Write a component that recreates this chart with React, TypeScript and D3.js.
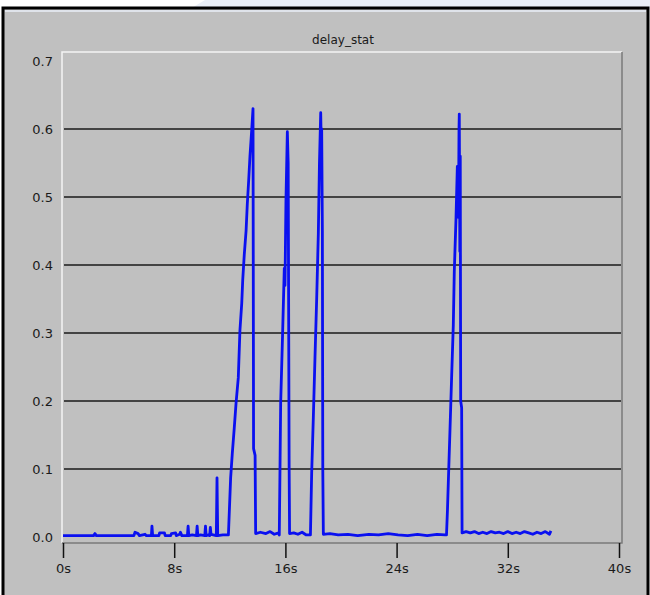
import { useRef, useEffect } from "react";
import * as d3 from "d3";

// delay_stat samples: time in seconds, delay in seconds
const quietTime = [0, 2.2, 2.3, 2.4, 5.1, 5.18, 5.4, 5.5, 5.9, 6.0, 6.36, 6.4, 6.45, 6.9, 6.95, 7.3, 7.35, 7.75, 7.8, 8.1, 8.15, 8.4, 8.45, 8.55, 8.95, 9.0, 9.05, 9.3, 9.6, 9.65, 9.7, 9.9, 10.2, 10.25, 10.3, 10.45, 10.55, 10.6, 10.65, 11.03, 11.08, 11.13, 11.5, 11.9];
const quietDelay = [0.002, 0.002, 0.005, 0.002, 0.002, 0.007, 0.005, 0.002, 0.004, 0.002, 0.002, 0.016, 0.002, 0.002, 0.006, 0.006, 0.002, 0.002, 0.005, 0.006, 0.002, 0.004, 0.007, 0.002, 0.002, 0.016, 0.002, 0.003, 0.002, 0.016, 0.002, 0.003, 0.002, 0.016, 0.002, 0.003, 0.002, 0.014, 0.004, 0.002, 0.087, 0.002, 0.003, 0.003];

const burst1Time = [12.06, 12.18, 12.32, 12.45, 12.61, 12.73, 12.86, 12.93, 13.04, 13.17, 13.26, 13.36, 13.45, 13.58, 13.67, 13.71, 13.82, 13.86];
const burst1Delay = [0.087, 0.123, 0.16, 0.197, 0.234, 0.304, 0.344, 0.378, 0.415, 0.45, 0.49, 0.525, 0.56, 0.6, 0.63, 0.13, 0.12, 0.005];

const gap1Time = [14.2, 14.6, 14.9, 15.2, 15.5, 15.56];
const gap1Delay = [0.007, 0.005, 0.008, 0.004, 0.006, 0.003];

const burst2Time = [15.61, 15.66, 15.8, 15.92, 15.97, 16.04, 16.14, 16.2, 16.27, 16.3];
const burst2Delay = [0.098, 0.197, 0.3, 0.395, 0.37, 0.495, 0.596, 0.55, 0.1, 0.005];

const gap2Time = [16.6, 16.9, 17.2, 17.5, 17.8];
const gap2Delay = [0.006, 0.004, 0.007, 0.003, 0.003];

const burst3Time = [17.89, 18.01, 18.13, 18.25, 18.37, 18.45, 18.54, 18.58, 18.61, 18.66, 18.69, 18.73];
const burst3Delay = [0.094, 0.176, 0.265, 0.35, 0.447, 0.55, 0.624, 0.574, 0.6, 0.45, 0.1, 0.004];

const gap3Time = [19.2, 19.8, 20.5, 21.2, 22, 22.7, 23.4, 24.1, 24.8, 25.5, 26.2, 26.9, 27.5, 27.59];
const gap3Delay = [0.005, 0.003, 0.004, 0.002, 0.004, 0.003, 0.005, 0.003, 0.002, 0.004, 0.002, 0.004, 0.003, 0.003];

const burst4Time = [27.66, 27.72, 27.84, 27.96, 28.08, 28.15, 28.27, 28.37, 28.45, 28.49, 28.51, 28.55, 28.58, 28.61, 28.68, 28.71];
const burst4Delay = [0.04, 0.08, 0.157, 0.236, 0.312, 0.39, 0.466, 0.545, 0.47, 0.6, 0.622, 0.42, 0.56, 0.2, 0.19, 0.006];

const tailTime = [29.0, 29.3, 29.6, 29.9, 30.2, 30.5, 30.8, 31.1, 31.4, 31.7, 32.0, 32.3, 32.6, 32.9, 33.2, 33.5, 33.8, 34.1, 34.4, 34.7, 35.0, 35.1];
const tailDelay = [0.008, 0.006, 0.008, 0.005, 0.007, 0.005, 0.008, 0.006, 0.007, 0.005, 0.008, 0.005, 0.007, 0.005, 0.008, 0.006, 0.004, 0.007, 0.005, 0.008, 0.004, 0.009];

const xTicks = [0, 8, 16, 24, 32, 40];
const yTicks = [0, 0.1, 0.2, 0.3, 0.4, 0.5, 0.6, 0.7];
const gridValues = [0.1, 0.2, 0.3, 0.4, 0.5, 0.6];

const times = [...quietTime, ...burst1Time, ...gap1Time, ...burst2Time, ...gap2Time, ...burst3Time, ...gap3Time, ...burst4Time, ...tailTime];
const delays = [...quietDelay, ...burst1Delay, ...gap1Delay, ...burst2Delay, ...gap2Delay, ...burst3Delay, ...gap3Delay, ...burst4Delay, ...tailDelay];

const width = 650;
const height = 595;
const font = "'DejaVu Sans', Verdana, sans-serif";

export default function App() {
  const gx = useRef<SVGGElement>(null);

  const x = d3.scaleLinear([0, 40], [63, 619]);
  const y = d3.scaleLinear([0, 0.7], [537, 61]);
  const line = d3.line<number>((d, i) => x(times[i]), (d) => y(d));

  useEffect(() => {
    const axis = d3.axisBottom(x).tickValues(xTicks).tickSize(15).tickPadding(6).tickFormat((d) => `${d}s`);
    const g = d3.select(gx.current!).call(axis);
    g.select(".domain").remove();
    g.selectAll(".tick line").attr("stroke", "#111").attr("stroke-width", 1.5);
    g.selectAll(".tick text").attr("fill", "#1a1a1a").attr("font-size", 13).attr("font-family", font);
  }, []);

  return (
    <svg width={width} height={height} style={{ position: "absolute", left: 0, top: 0 }}>
      <rect width={width} height={height} fill="#ffffff" />
      <polygon points="205,0 650,0 650,9 190,9" fill="#eaeff8" />
      {/* window frame */}
      <rect x={3} y={8} width={645} height={600} fill="#c0c0c0" stroke="#000" strokeWidth={3} />
      <line x1={5} x2={646} y1={11} y2={11} stroke="#dfe3ea" strokeWidth={2} />
      {/* plot area with inset edges */}
      <rect x={62} y={52} width={560} height={491} fill="#c0c0c0" />
      <path d="M62,543 V52 H622" fill="none" stroke="#f4f4f4" strokeWidth={1.5} />
      <path d="M622,52 V543 H62" fill="none" stroke="#7a7a7a" strokeWidth={1.5} />
      <text x={343} y={44} textAnchor="middle" fontSize={12} fontFamily={font} fill="#1a1a1a">delay_stat</text>
      {gridValues.map((v) => (
        <line key={v} x1={64} x2={621} y1={y(v)} y2={y(v)} stroke="#1a1a1a" strokeWidth={1.5} />
      ))}
      {yTicks.map((v) => (
        <text key={v} x={53} y={y(v)} dy="0.36em" textAnchor="end" fontSize={13} fontFamily={font} fill="#1a1a1a">
          {v.toFixed(1)}
        </text>
      ))}
      <g ref={gx} transform="translate(0,543)" />
      <path d={line(delays) ?? ""} fill="none" stroke="#0a10f0" strokeWidth={2.8} strokeLinejoin="round" />
    </svg>
  );
}
